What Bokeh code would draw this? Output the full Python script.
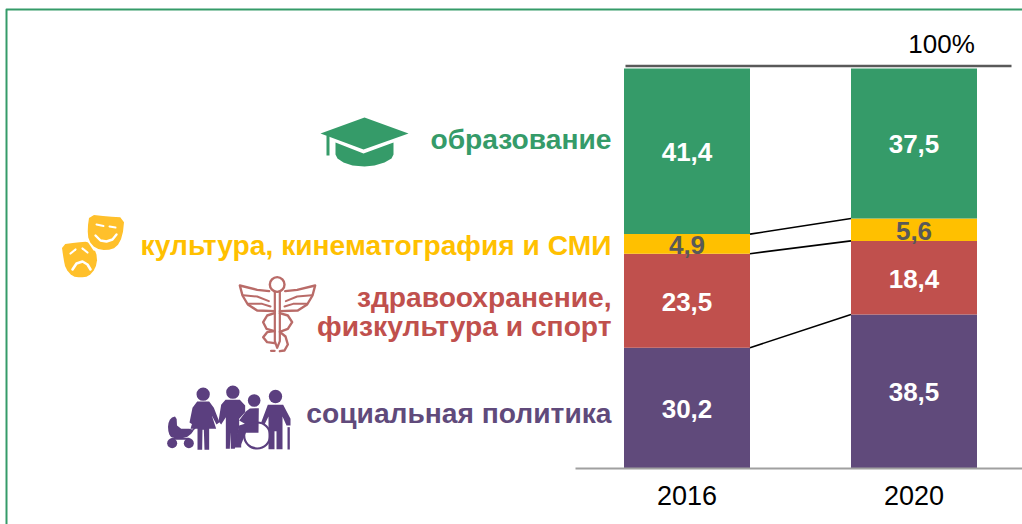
from bokeh.plotting import figure
from bokeh.embed import file_html
from bokeh.resources import INLINE
from bokeh.models import Range1d, FixedTicker
from bokeh.core.properties import value

years = ["2016", "2020"]
social = [30.2, 38.5]
health = [23.5, 18.4]
culture = [4.9, 5.6]
education = [41.4, 37.5]
total_label = "100%"
series_labels = ["социальная политика", "здравоохранение,\nфизкультура и спорт",
                 "культура, кинематография и СМИ", "образование"]
C_SOC, C_HEA, C_CUL, C_EDU = "#604A7B", "#C0504D", "#FFC000", "#359B69"
FONT = value("Liberation Sans")

W, H, FB = 1022, 524, 468
PX_UNIT = 227.0
X0 = 686.5
p = figure(width=W, height=H, output_backend="svg", toolbar_location=None,
           x_range=Range1d(-X0 / PX_UNIT, (W - X0) / PX_UNIT),
           y_range=Range1d(-(H - FB) / 4.0, FB / 4.0), y_axis_location=None,
           min_border_left=0, min_border_right=0, min_border_top=0, min_border_bottom=0)
p.margin = (0, 0, 0, 0)
p.outline_line_color = None
p.xgrid.visible = False
p.ygrid.visible = False
p.background_fill_color = "white"
p.border_fill_color = "white"
p.extra_x_ranges["px"] = Range1d(0, W)
p.extra_y_ranges["px"] = Range1d(H, 0)
PXK = dict(x_range_name="px", y_range_name="px")

ax = p.xaxis[0]
ax.fixed_location = 0
ax.ticker = FixedTicker(ticks=[0, 1])
ax.major_label_overrides = {0: years[0], 1: years[1]}
ax.major_tick_line_color = None
ax.minor_tick_line_color = None
ax.axis_line_color = "#A0A0A0"
ax.axis_line_width = 2
ax.bounds = ((575 - X0) / PX_UNIT, (W - X0) / PX_UNIT)
ax.major_label_text_font = "Liberation Sans"
ax.major_label_text_font_size = "27px"
ax.major_label_text_color = "black"
ax.major_label_standoff = 11

# stacked bars, bottom to top
xpos = [0, 1]
BAR_W = 126 / PX_UNIT
stack = [(social, C_SOC, "white"), (health, C_HEA, "white"),
         (culture, C_CUL, "#595959"), (education, C_EDU, "white")]
bottoms = [0.0, 0.0]
tops_hist = []
for vals, col, tcol in stack:
    tops = [b + v for b, v in zip(bottoms, vals)]
    p.vbar(x=xpos, bottom=bottoms, top=tops, width=BAR_W, fill_color=col, line_color=None)
    tops_hist.append(tops)
    mids = [(b + t) / 2 - 0.2 for b, t in zip(bottoms, tops)]
    labels = [f"{v:.1f}".replace(".", ",") for v in vals]
    p.text(x=xpos, y=mids, text=labels, text_color=tcol, text_font=FONT, text_font_style="bold",
           text_font_size="26px", text_align="center", text_baseline="middle", level="overlay")
    bottoms = tops
# connector lines
for tops in tops_hist[:3]:
    p.line(x=[BAR_W / 2, 1 - BAR_W / 2], y=tops, line_color="black", line_width=1.6)

# top rule and total label
p.line(x=[625, 1011], y=[65.5, 65.5], line_color="#595959", line_width=2.6, **PXK)
p.text(x=[941], y=[43], text=[total_label], text_color="black", text_font=FONT, text_font_size="26px",
       text_align="center", text_baseline="middle", **PXK)

# category labels
cat_rows = [(series_labels[3], 138, C_EDU), (series_labels[2], 244, C_CUL),
            (series_labels[1].split("\n")[0], 296, C_HEA), (series_labels[1].split("\n")[1], 325, C_HEA),
            (series_labels[0], 412, C_SOC)]
for t, y, c in cat_rows:
    p.text(x=[611], y=[y], text=[t], text_color=c, text_font=FONT, text_font_style="bold",
           text_font_size="28.2px", text_align="right", text_baseline="middle", **PXK)


def smooth(pts, n=2):
    for _ in range(n):
        out = []
        for i in range(len(pts)):
            a, b = pts[i], pts[(i + 1) % len(pts)]
            out.append((.75 * a[0] + .25 * b[0], .75 * a[1] + .25 * b[1]))
            out.append((.25 * a[0] + .75 * b[0], .25 * a[1] + .75 * b[1]))
        pts = out
    return pts


def poly(pts, color, ox=0, oy=0, k=1.0, sm=0):
    pts = smooth(pts, sm) if sm else pts
    p.patch([ox + a / k for a, _ in pts], [oy + b / k for _, b in pts], fill_color=color, line_color=None, **PXK)


def stroke(pts, color, w, ox=0, oy=0, k=1.0):
    p.line([ox + a / k for a, _ in pts], [oy + b / k for _, b in pts], line_color=color, line_width=w,
           line_cap="round", line_join="round", **PXK)


def disc(x, y, r, color, ox=0, oy=0, k=1.0, line=None, lw=0):
    p.circle([ox + x / k], [oy + y / k], radius=r / k, fill_color=color if line is None else None,
             line_color=line, line_width=lw, **PXK)


# graduation cap
G = C_EDU
poly([(364, 117), (408, 133), (363, 149), (320, 133)], G)
poly([(326, 135), (329, 134), (329, 155), (326, 155)], G)
poly([(335, 142), (363, 153), (393, 142), (393, 154), (391, 158), (384, 162), (374, 165), (364, 166), (352, 165),
      (343, 162), (337, 158), (335, 154)], G)

# theatre masks
Y = "#FFC02B"
poly([(61, 244), (76, 242), (88, 241), (93, 246), (97, 257), (95, 268), (88, 276), (80, 277), (72, 276), (65, 268),
      (63, 258)], Y, sm=1)
poly([(85, 238), (88, 212), (126, 215), (124, 238), (116, 251), (106, 253), (93, 250)], "white")
poly([(89, 214), (107, 216), (124, 217), (122, 236), (116, 247), (106, 250), (95, 248), (88, 240), (87, 228)], Y, sm=1)
stroke([(96, 224), (103, 225.5)], "white", 2)
stroke([(109, 226), (115, 227)], "white", 2)
stroke([(95, 235), (100, 240), (106, 241), (112, 239), (116, 234)], "white", 2.4)
stroke([(70, 253), (75, 249)], "white", 2.2)
stroke([(82, 248), (87, 252)], "white", 2.2)
stroke([(72, 269), (76, 263), (82, 261), (87, 264), (90, 269)], "white", 2.6)

# caduceus (coordinates in zoomed space)
R = "#B96B68"
z = dict(ox=150, oy=270, k=3.0)
disc(380, 42, 22, None, line=R, lw=2.4, **z)
stroke([(373, 65), (373, 212), (380, 232), (388, 212), (388, 65)], R, 2.2, **z)
stroke([(356, 62), (320, 58), (268, 45), (276, 75), (292, 102), (320, 120), (373, 122)], R, 2.4, **z)
stroke([(404, 62), (440, 58), (494, 45), (486, 75), (470, 102), (442, 120), (388, 122)], R, 2.4, **z)
stroke([(278, 74), (320, 78), (355, 92)], R, 2, **z)
stroke([(294, 100), (335, 100), (360, 108)], R, 2, **z)
stroke([(484, 74), (440, 78), (406, 92)], R, 2, **z)
stroke([(468, 100), (428, 100), (402, 108)], R, 2, **z)
stroke([(372, 128), (350, 135), (338, 155), (348, 175), (372, 182), (350, 185), (338, 200), (350, 215), (372, 218)], R, 2.4, **z)
stroke([(388, 128), (412, 135), (425, 155), (412, 175), (388, 184), (405, 198), (412, 222), (402, 240), (388, 242)], R, 2.4, **z)
stroke([(362, 241), (372, 241)], R, 2.4, **z)

# family
P = "#5B3F7F"
# stroller
poly([(78, 436), (60, 443), (52, 462), (54, 488), (64, 503), (105, 503), (128, 485), (128, 475), (80, 475)], P, sm=1, **z)
stroke([(128, 478), (135, 470)], P, 1.6, **z)
disc(65, 518, 15, P, **z)
disc(115, 518, 15, P, **z)
stroke([(65, 505), (115, 505)], P, 2, **z)
# woman
disc(158, 371, 20, P, **z)
poly([(140, 393), (176, 393), (190, 412), (207, 455), (198, 462), (184, 435), (197, 475), (176, 475), (176, 538),
      (162, 538), (160, 478), (156, 478), (155, 538), (141, 538), (141, 475), (120, 475), (132, 435), (126, 462),
      (117, 456), (126, 412)], P, **z)
# man
disc(247, 365, 20, P, **z)
poly([(225, 388), (268, 388), (284, 405), (284, 425), (266, 445), (266, 470), (253, 535), (241, 535), (240, 485),
      (238, 535), (226, 535), (226, 440), (212, 462), (204, 452), (212, 403)], P, **z)
# wheelchair user
disc(311, 390, 19, P, **z)
poly([(298, 414), (325, 413), (324, 487), (286, 487), (272, 522), (252, 522), (266, 465), (283, 460), (266, 450),
      (286, 423)], P, **z)
disc(320, 495, 39, None, line=P, lw=2.2, **z)
poly([(250, 520), (272, 520), (272, 531), (252, 531)], P, **z)
# old man
disc(375, 378, 20, P, **z)
poly([(352, 403), (398, 403), (420, 445), (420, 465), (408, 465), (396, 438), (396, 536), (378, 536), (378, 482),
      (372, 482), (372, 536), (354, 536), (354, 438), (342, 462), (332, 456)], P, **z)
poly([(411, 470), (418, 470), (418, 537), (411, 537)], P, **z)

# page frame
stroke([(6, H), (6, 9), (W, 9)], "#359B69", 2)

open("out.html", "w").write(file_html(p, INLINE))
